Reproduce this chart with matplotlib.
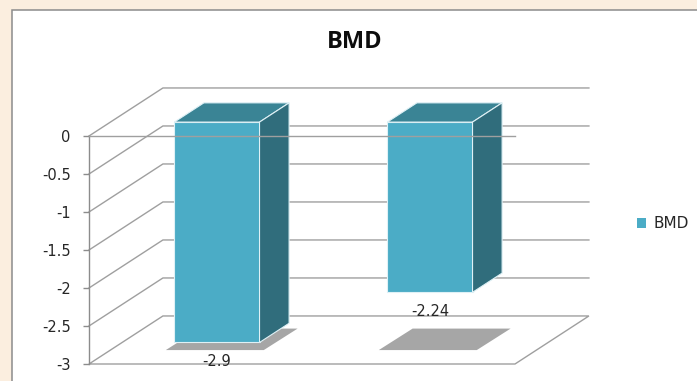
import matplotlib
matplotlib.use("Agg")
import matplotlib.pyplot as plt
from matplotlib.patches import Polygon, Rectangle, Patch

# data
categories = ["Group 1", "Group 2"]
bmd_values = [-2.9, -2.24]
bar_labels = ["-2.9", "-2.24"]
y_ticks = [0, -0.5, -1, -1.5, -2, -2.5, -3]
y_tick_labels = ["0", "-0.5", "-1", "-1.5", "-2", "-2.5", "-3"]
series_name = "BMD"

# fake 3d settings (depth offset in data units)
DX, DY = 0.347, 0.632
Z0, Z1 = 0.29, 0.69
W = 0.4
FRONT = "#4BACC6"
TOP = "#3A8495"
SIDE = "#306D7C"
GRID = "#9f9f9f"

W_PX, H_PX = 697, 381
fig = plt.figure(figsize=(W_PX / 100, H_PX / 100), dpi=100)
fig.patch.set_facecolor("#fbeedf")

# white chart frame
frame = Rectangle((12 / W_PX, -0.05), 1.1, 1 - 9.5 / H_PX + 0.05,
                  transform=fig.transFigure, facecolor="white",
                  edgecolor="#8c8c8c", lw=1.1, zorder=-1)
fig.add_artist(frame)

ax = fig.add_axes([89 / W_PX, (H_PX - 364) / H_PX,
                   (515 - 89) / W_PX, (364 - 60) / H_PX])
ax.patch.set_visible(False)
ax.set_xlim(-0.5, len(categories) - 0.5)
ax.set_ylim(-3, 1)

x0, x1 = -0.5, len(categories) - 0.5
floor = y_ticks[-1]

# back + side wall gridlines
for v in y_ticks[:-1]:
    ax.plot([x0, x0 + DX, x1 + DX], [v, v + DY, v + DY], color=GRID,
            lw=1.0, zorder=1, clip_on=False)

# floor
ax.add_patch(Polygon([(x0, floor), (x1, floor), (x1 + DX, floor + DY),
                      (x0 + DX, floor + DY)], closed=True, facecolor="white",
                     edgecolor=GRID, lw=1.0, zorder=1, clip_on=False))

# bars
for i, (val, lab) in enumerate(zip(bmd_values, bar_labels)):
    xl, xr = i - W / 2, i + W / 2
    # shadow on floor
    ax.add_patch(Polygon([(xl - 0.04 + Z0 * DX, floor + Z0 * DY),
                          (xr + 0.02 + Z0 * DX, floor + Z0 * DY),
                          (xr + 0.04 + Z1 * DX, floor + Z1 * DY + 0.03),
                          (xl - 0.02 + Z1 * DX, floor + Z1 * DY + 0.03)],
                         closed=True, facecolor="#a6a6a6", edgecolor="none",
                         zorder=2, clip_on=False))
    top = 0
    # front
    ax.add_patch(Polygon([(xl + Z0 * DX, val + Z0 * DY), (xr + Z0 * DX, val + Z0 * DY),
                          (xr + Z0 * DX, top + Z0 * DY), (xl + Z0 * DX, top + Z0 * DY)],
                         closed=True, facecolor=FRONT, edgecolor="#dff1f6",
                         lw=0.8, zorder=3, clip_on=False))
    # top
    ax.add_patch(Polygon([(xl + Z0 * DX, top + Z0 * DY), (xr + Z0 * DX, top + Z0 * DY),
                          (xr + Z1 * DX, top + Z1 * DY), (xl + Z1 * DX, top + Z1 * DY)],
                         closed=True, facecolor=TOP, edgecolor="#dff1f6",
                         lw=0.8, zorder=3, clip_on=False))
    # right side
    ax.add_patch(Polygon([(xr + Z0 * DX, val + Z0 * DY), (xr + Z0 * DX, top + Z0 * DY),
                          (xr + Z1 * DX, top + Z1 * DY), (xr + Z1 * DX, val + Z1 * DY)],
                         closed=True, facecolor=SIDE, edgecolor="#dff1f6",
                         lw=0.8, zorder=3, clip_on=False))
    ax.annotate(lab, xy=(i + Z0 * DX, val + Z0 * DY), xytext=(0, -14),
                textcoords="offset points", ha="center", va="center",
                fontsize=10.5, color="#262626", zorder=5, annotation_clip=False)

# front zero line sits over the bars
ax.plot([x0, x1], [0, 0], color=GRID, lw=1.0, zorder=4, clip_on=False)

# value axis
for s in ["top", "right", "bottom"]:
    ax.spines[s].set_visible(False)
ax.spines["left"].set_bounds(-3, 0)
ax.spines["left"].set_color("#8c8c8c")
ax.spines["left"].set_linewidth(1.0)
ax.set_xticks([])
ax.set_yticks(y_ticks)
ax.set_yticklabels(y_tick_labels)
ax.tick_params(axis="y", length=4.3, width=1.0, color="#8c8c8c", pad=9,
               labelsize=10.5, labelcolor="#262626")

fig.text(355 / W_PX, 1 - 42 / H_PX, "BMD", ha="center", va="center",
         fontsize=17, fontweight="bold", family="Open Sans", color="#0d0d0d")

fig.legend(handles=[Patch(facecolor=FRONT, edgecolor="none")], labels=[series_name],
           loc="center left", bbox_to_anchor=(637 / W_PX, 1 - 224 / H_PX),
           frameon=False, fontsize=11, handlelength=0.6, handleheight=0.6,
           handletextpad=0.5, borderpad=0, borderaxespad=0,
           labelcolor="#262626")

fig.savefig("out.png", dpi=100, facecolor=fig.get_facecolor())
